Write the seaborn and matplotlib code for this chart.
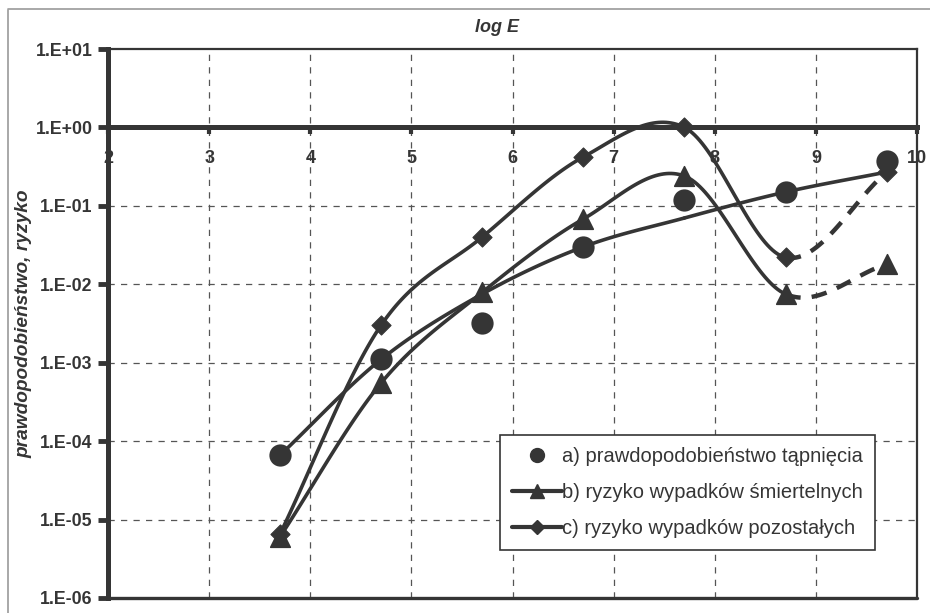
import numpy as np
import pandas as pd
import matplotlib
matplotlib.use('Agg')
import matplotlib.pyplot as plt
from matplotlib.lines import Line2D
import seaborn as sns

# ==========================================
# DANE
# ==========================================
log_e = [3.7, 4.7, 5.7, 6.7, 7.7, 8.7, 9.7]
p_tapniecia = [6.6e-5, 1.1e-3, 3.2e-3, 3.0e-2, 0.12, 0.15, 0.37]
trend_a = [6.6e-5, 1.1e-3, 7.5e-3, 3.0e-2, 7.0e-2, 0.15, 0.27]
ryzyko_smiert = [6.0e-6, 5.5e-4, 7.9e-3, 6.8e-2, 0.24, 7.5e-3, 1.8e-2]
ryzyko_pozost = [6.5e-6, 3.0e-3, 4.0e-2, 0.42, 1.0, 2.2e-2, 0.27]

x_ticks = [2, 3, 4, 5, 6, 7, 8, 9, 10]
y_ticks = [1e-6, 1e-5, 1e-4, 1e-3, 1e-2, 1e-1, 1e0, 1e1]
y_labels = ['1.E-06', '1.E-05', '1.E-04', '1.E-03', '1.E-02', '1.E-01', '1.E+00', '1.E+01']
legend_labels = ['a) prawdopodobieństwo tąpnięcia',
                 'b) ryzyko wypadków śmiertelnych',
                 'c) ryzyko wypadków pozostałych']

DARK = '#353535'


def smooth(xs, ys, n=40):
    # wygładzona linia (Catmull-Rom w skali log), jak "wygładzona linia" w Excelu
    x = np.asarray(xs, float)
    y = np.log10(np.asarray(ys, float))
    px = np.concatenate([[2 * x[0] - x[1]], x, [2 * x[-1] - x[-2]]])
    py = np.concatenate([[2 * y[0] - y[1]], y, [2 * y[-1] - y[-2]]])
    segs = []
    for i in range(1, len(px) - 2):
        t = np.linspace(0, 1, n)
        h00 = 2 * t**3 - 3 * t**2 + 1
        h10 = t**3 - 2 * t**2 + t
        h01 = -2 * t**3 + 3 * t**2
        h11 = t**3 - t**2
        mx1, mx2 = (px[i + 1] - px[i - 1]) / 2, (px[i + 2] - px[i]) / 2
        my1, my2 = (py[i + 1] - py[i - 1]) / 2, (py[i + 2] - py[i]) / 2
        sx = h00 * px[i] + h10 * mx1 + h01 * px[i + 1] + h11 * mx2
        sy = h00 * py[i] + h10 * my1 + h01 * py[i + 1] + h11 * my2
        segs.append(pd.DataFrame({'x': sx, 'y': 10 ** sy}))
    return segs


sns.set_style('white')
plt.rcParams['font.family'] = ['Liberation Sans', 'DejaVu Sans']

fig = plt.figure(figsize=(9.3, 6.13), dpi=100)
ax = fig.add_axes([108 / 930, 1 - 598 / 613, 809 / 930, 549 / 613])
ax.set_yscale('log')
ax.set_xlim(2, 10)
ax.set_ylim(1e-6, 1e1)

# siatka
for xv in x_ticks[1:-1]:
    ax.axvline(xv, color='#555555', lw=0.9, ls=(0, (5, 5)), zorder=0)
for yv in y_ticks[1:-2]:
    ax.axhline(yv, color='#555555', lw=0.9, ls=(0, (5, 5)), zorder=0)

# linia trendu dla a)
for seg in smooth(log_e, trend_a):
    sns.lineplot(data=seg, x='x', y='y', ax=ax, color=DARK, lw=2.6,
                 sort=False, estimator=None, zorder=3)

# b) i c) - ostatni odcinek przerywany
for vals in [ryzyko_smiert, ryzyko_pozost]:
    segs = smooth(log_e, vals)
    for i, seg in enumerate(segs):
        last = i == len(segs) - 1
        sns.lineplot(data=seg, x='x', y='y', ax=ax, color=DARK,
                     lw=3.2 if last else 2.6,
                     ls=(0, (3.5, 2.5)) if last else '-',
                     sort=False, estimator=None, zorder=3)

df_pts = pd.DataFrame({'x': log_e, 'a': p_tapniecia, 'b': ryzyko_smiert, 'c': ryzyko_pozost})
sns.scatterplot(data=df_pts, x='x', y='a', ax=ax, marker='o', s=220, color=DARK,
                edgecolor=DARK, zorder=5)
sns.scatterplot(data=df_pts, x='x', y='b', ax=ax, marker='^', s=200, color=DARK,
                edgecolor=DARK, zorder=5)
sns.scatterplot(data=df_pts, x='x', y='c', ax=ax, marker='D', s=95, color=DARK,
                edgecolor=DARK, zorder=5)

# osie
ax.spines['bottom'].set_position(('data', 1))
ax.spines['bottom'].set_linewidth(3.6)
ax.spines['bottom'].set_color(DARK)
ax.spines['bottom'].set_zorder(2)
ax.spines['left'].set_linewidth(3.6)
ax.spines['left'].set_color(DARK)
for s in ['top', 'right']:
    ax.spines[s].set_linewidth(1.6)
    ax.spines[s].set_color(DARK)
ax.axhline(1e-6, color=DARK, lw=2.4, clip_on=False, zorder=2)

ax.set_xticks(x_ticks)
ax.set_xticklabels([str(v) for v in x_ticks], fontsize=13, fontweight='bold', color=DARK)
ax.tick_params(axis='x', direction='out', length=5, width=3, color=DARK, pad=11, bottom=True)
ax.set_yticks(y_ticks)
ax.set_yticklabels(y_labels, fontsize=12.8, fontweight='bold', color=DARK)
ax.yaxis.set_minor_locator(matplotlib.ticker.NullLocator())
ax.tick_params(axis='y', direction='out', length=7, width=3.5, color=DARK, pad=4, left=True)

ax.set_xlabel('')
ax.set_ylabel('prawdopodobieństwo, ryzyko', fontsize=13.8, fontweight='bold',
              fontstyle='italic', color=DARK)
ax.yaxis.set_label_coords(-0.094, 0.5)
fig.text(497 / 930, 1 - 28 / 613, 'log E', fontsize=13, fontweight='bold',
         fontstyle='italic', color=DARK, ha='center', va='center')

# legenda
handles = [
    Line2D([], [], ls='none', marker='o', ms=10, color=DARK),
    Line2D([], [], ls='-', lw=3, marker='^', ms=10, color=DARK),
    Line2D([], [], ls='-', lw=3, marker='D', ms=7, color=DARK),
]
leg = ax.legend(handles, legend_labels, loc='lower right', bbox_to_anchor=(0.948, 0.087),
                fontsize=14.5, frameon=True, fancybox=False, framealpha=1,
                handlelength=2.5, handletextpad=0.0, labelspacing=0.85,
                borderpad=0.6, borderaxespad=0, labelcolor=DARK)
leg.get_frame().set_edgecolor(DARK)
leg.get_frame().set_linewidth(1.2)
leg.set_zorder(6)

# ramka rysunku
fig.add_artist(Line2D([8 / 930, 8 / 930], [1 - 10 / 613, 0], color='#999999', lw=1.2))
fig.add_artist(Line2D([8 / 930, 1], [1 - 9 / 613, 1 - 9 / 613], color='#999999', lw=1.2))

fig.savefig('out.png', dpi=100)
